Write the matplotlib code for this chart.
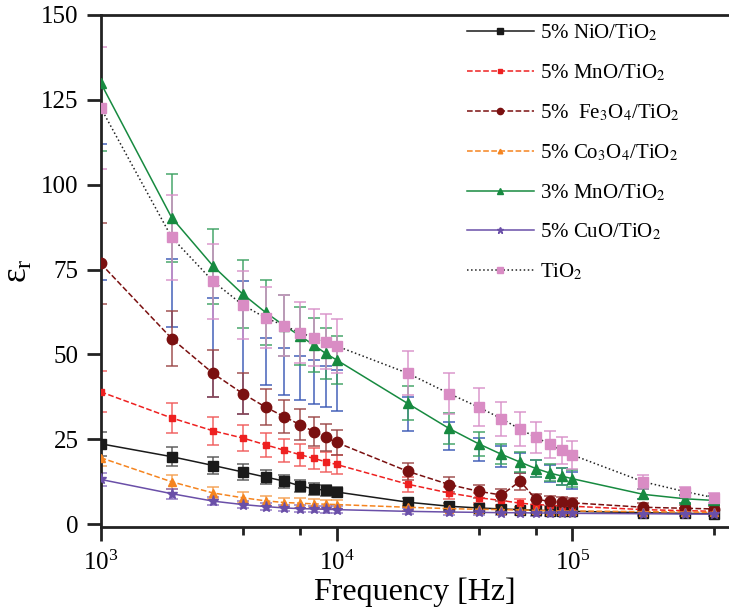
import numpy as np
import matplotlib
matplotlib.use("Agg")
import matplotlib.pyplot as plt
from matplotlib.ticker import LogLocator, LogFormatterMathtext, NullFormatter

plt.rcParams['font.family'] = ['Liberation Serif', 'DejaVu Serif']
plt.rcParams['mathtext.fontset'] = 'stix'

freq = [1e3, 2e3, 3e3, 4e3, 5e3, 6e3, 7e3, 8e3, 9e3, 1e4,
        2e4, 3e4, 4e4, 5e4, 6e4, 7e4, 8e4, 9e4, 1e5, 2e5, 3e5, 4e5]

nio = [23.7, 19.9, 17.3, 15.4, 13.9, 12.7, 11.3, 10.4, 10.0, 9.5,
       6.5, 5.3, 4.8, 4.5, 4.3, 4.1, 4.0, 3.9, 3.8, 3.4, 3.2, 3.1]
nio_err = [3.5, 2.8, 2.5, 2.3, 2.0, 1.9, 1.8, 1.7, 1.6, 1.5,
           1.2, 1.0, 1.0, 0.9, 0.9, 0.9, 0.8, 0.8, 0.8, 0.7, 0.7, 0.7]

mno5 = [39.0, 31.3, 27.5, 25.4, 23.4, 21.8, 20.5, 19.4, 18.4, 17.6,
        11.8, 9.2, 7.8, 7.0, 6.2, 5.8, 5.6, 5.4, 5.3, 4.3, 4.0, 3.8]
mno5_err = [6.0, 4.5, 4.2, 3.8, 3.6, 3.4, 3.2, 3.0, 2.9, 2.8,
            2.2, 1.8, 1.5, 1.4, 1.3, 1.2, 1.2, 1.1, 1.1, 0.9, 0.8, 0.8]

fe3o4 = [76.8, 54.7, 44.4, 38.5, 34.5, 31.7, 29.3, 27.3, 25.6, 24.1,
         15.6, 11.7, 9.7, 8.6, 12.7, 7.3, 6.8, 6.5, 6.3, 5.0, 4.7, 4.5]
fe3o4_err = [12.0, 8.0, 7.0, 6.0, 5.3, 4.8, 4.5, 4.2, 4.0, 3.7,
             2.5, 2.2, 2.0, 1.8, 2.5, 1.6, 1.5, 1.5, 1.4, 1.2, 1.1, 1.0]

co3o4 = [19.6, 12.5, 9.2, 7.8, 6.9, 6.4, 6.2, 6.0, 5.9, 5.8,
         5.0, 4.6, 4.4, 4.3, 4.2, 4.1, 4.0, 3.9, 3.9, 3.7, 3.6, 3.5]
co3o4_err = [2.5, 2.0, 1.8, 1.6, 1.5, 1.4, 1.4, 1.3, 1.3, 1.3,
             1.1, 1.0, 1.0, 0.9, 0.9, 0.9, 0.9, 0.9, 0.9, 0.8, 0.8, 0.8]

mno3 = [130.0, 90.3, 76.0, 67.8, 62.4, 58.5, 55.5, 52.8, 50.3, 48.4,
        35.6, 28.2, 23.7, 20.6, 18.3, 16.4, 15.1, 14.2, 13.4, 8.8, 7.5, 7.0]
mno3_err = [20.0, 13.0, 11.0, 10.0, 9.5, 9.0, 8.5, 8.0, 7.5, 7.0,
            5.0, 4.5, 3.5, 3.0, 3.0, 2.5, 2.5, 2.5, 2.5, 1.5, 1.2, 1.2]

cuo = [13.2, 9.0, 6.8, 5.8, 5.2, 4.8, 4.6, 4.5, 4.4, 4.3,
       3.8, 3.6, 3.5, 3.4, 3.4, 3.3, 3.3, 3.2, 3.2, 3.1, 3.0, 3.0]
cuo_err = [2.0, 1.5, 1.2, 1.1, 1.0, 1.0, 1.0, 1.0, 1.0, 1.0,
           0.9, 0.8, 0.8, 0.8, 0.8, 0.8, 0.8, 0.8, 0.8, 0.7, 0.7, 0.7]

tio2 = [122.7, 84.5, 71.5, 64.6, 60.8, 58.5, 56.4, 55.0, 53.8, 52.5,
        44.5, 38.5, 34.5, 31.1, 28.0, 25.6, 23.6, 21.8, 20.4, 12.5, 9.6, 7.8]
tio2_err = [18.0, 12.5, 11.0, 10.0, 9.0, 9.0, 9.0, 8.5, 8.0, 8.0,
            6.5, 6.0, 5.5, 5.0, 5.0, 4.5, 4.0, 4.0, 4.0, 2.0, 1.5, 1.5]

# extra blue error bars (no markers in the original)
blue_mid = [92.0, 68.0, 52.0, 52.0, 48.0, 45.0, 43.0, 42.0, 40.5, 39.5,
            32.5, 26.0, 22.0, 20.0, 18.0, 16.5, 15.0, 14.0, 13.0, 9.0, 7.5, 7.0]
blue_err = [20.0, 10.0, 14.5, 19.5, 7.0, 7.0, 6.5, 6.5, 6.0, 6.0,
            5.0, 4.0, 3.5, 3.0, 3.0, 2.5, 2.5, 2.5, 2.5, 1.5, 1.2, 1.2]

fig = plt.figure(figsize=(7.29, 6.11), dpi=100)
ax = fig.add_axes([0.1381, 0.137, 0.8619, 0.8385])

ax.errorbar(freq, blue_mid, yerr=blue_err, fmt='none', ecolor='#3a58b5',
            elinewidth=1.3, capsize=4.5, capthick=1.3, alpha=0.8, zorder=1)

series = [
    (nio, nio_err, '5% NiO/TiO$_2$', '#1a1a1a', '-', 's', 6.5, '#1a1a1a', '#555555'),
    (mno5, mno5_err, '5% MnO/TiO$_2$', '#ee2020', '--', 's', 5, '#ee2020', '#f05a5a'),
    (fe3o4, fe3o4_err, '5%  Fe$_3$O$_4$/TiO$_2$', '#7a1010', '--', 'o', 7.5, '#7a1010', '#9a4545'),
    (co3o4, co3o4_err, '5% Co$_3$O$_4$/TiO$_2$', '#f5841f', '--', '^', 5.5, '#f5841f', '#f5a050'),
    (mno3, mno3_err, '3% MnO/TiO$_2$', '#178a40', '-', '^', 7.5, '#178a40', '#3aa060'),
    (cuo, cuo_err, '5% CuO/TiO$_2$', '#6a4fa8', '-', '*', 8, '#6a4fa8', '#8a70c0'),
    (tio2, tio2_err, 'TiO$_2$', '#222222', ':', 's', 7, '#d98cc4', '#d890c8'),
]

for y, err, lab, col, ls, mk, ms, mcol, ecol in series:
    ax.errorbar(freq, y, yerr=err, fmt='none', ecolor=ecol, elinewidth=1.2,
                capsize=4.5, capthick=1.2, alpha=0.85, zorder=2)
    ax.plot(freq, y, color=col, linestyle=ls, linewidth=1.1, marker=mk,
            markersize=ms, markerfacecolor=mcol, markeredgecolor=mcol,
            label=lab, zorder=3)

ax.set_xscale('log')
ax.set_xlim(1e3, 4.61e5)
ax.set_ylim(-0.9, 150)
ax.set_yticks([0, 25, 50, 75, 100, 125, 150])
ax.xaxis.set_major_locator(LogLocator(base=10, subs=[1.0]))
ax.xaxis.set_major_formatter(LogFormatterMathtext())
ax.xaxis.set_minor_locator(LogLocator(base=10, subs=[4.0, 7.0]))
ax.xaxis.set_minor_formatter(NullFormatter())

ax.tick_params(axis='both', which='major', direction='out', length=10, width=2,
               labelsize=18, color='#222222')
ax.tick_params(axis='x', which='minor', direction='out', length=5.5, width=2, color='#222222')
ax.tick_params(axis='x', which='major', pad=7)
ax.tick_params(axis='y', which='major', pad=6)

ax.spines['right'].set_visible(False)
for s in ['left', 'bottom', 'top']:
    ax.spines[s].set_linewidth(2)
    ax.spines[s].set_color('#222222')

ax.set_xlabel('Frequency [Hz]', fontsize=23, labelpad=2)
ax.set_ylabel(r'$\mathregular{ε_r}$', fontsize=25, labelpad=4)

ax.legend(loc='upper left', bbox_to_anchor=(0.583, 0.985), frameon=False,
          fontsize=15, handlelength=3.2, handletextpad=0.3, labelspacing=0.92,
          borderpad=0, borderaxespad=0, markerscale=0.6)

fig.savefig('out.png', dpi=100)
